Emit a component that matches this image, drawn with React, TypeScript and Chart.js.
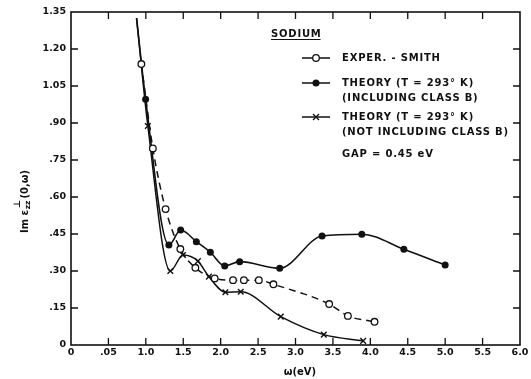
import React, { useEffect, useRef } from 'react';
import { Chart, registerables } from 'chart.js';

Chart.register(...registerables);

// ---- data ----
const xTickValues = [0, 0.5, 1, 1.5, 2, 2.5, 3, 3.5, 4, 4.5, 5, 5.5, 6];
const xTickLabels = ['0', '.05', '1.0', '1.5', '2.0', '2.5', '3.0', '3.5', '4.0', '4.5', '5.0', '5.5', '6.0'];
const yTickValues = [0, 0.15, 0.3, 0.45, 0.6, 0.75, 0.9, 1.05, 1.2, 1.35];
const yTickLabels = ['0', '.15', '.30', '.45', '.60', '.75', '.90', '1.05', '1.20', '1.35'];

const experX = [0.94, 1.094, 1.264, 1.461, 1.662, 1.92, 2.165, 2.31, 2.51, 2.705, 3.45, 3.7, 4.056];
const experY = [1.139, 0.797, 0.551, 0.389, 0.313, 0.27, 0.263, 0.263, 0.263, 0.246, 0.166, 0.118, 0.094];

const theoryBX = [0.876, 0.997, 1.308, 1.465, 1.675, 1.862, 2.054, 2.254, 2.789, 3.355, 3.886, 4.448, 5.0];
const theoryBY = [1.325, 0.996, 0.405, 0.466, 0.419, 0.376, 0.32, 0.338, 0.311, 0.442, 0.449, 0.388, 0.324];

const theoryNX = [0.876, 1.027, 1.327, 1.496, 1.696, 1.843, 2.063, 2.268, 2.803, 3.378, 3.904];
const theoryNY = [1.325, 0.888, 0.3, 0.365, 0.34, 0.277, 0.214, 0.216, 0.115, 0.042, 0.017];

const legendTitle = 'SODIUM';
const legendLines = [
  'EXPER. - SMITH',
  'THEORY (T = 293° K)',
  '(INCLUDING CLASS B)',
  'THEORY (T = 293° K)',
  '(NOT INCLUDING CLASS B)',
  'GAP = 0.45 eV',
];

const INK = '#111';
const FONT = '"DejaVu Sans", sans-serif';

const toPts = (xs: number[], ys: number[]) => xs.map((x, i) => ({ x, y: ys[i] }));

function drawMarker(ctx: CanvasRenderingContext2D, kind: string, x: number, y: number) {
  ctx.save();
  ctx.strokeStyle = INK;
  ctx.lineWidth = 1.3;
  if (kind === 'open') {
    ctx.beginPath();
    ctx.arc(x, y, 3.3, 0, Math.PI * 2);
    ctx.fillStyle = '#fff';
    ctx.fill();
    ctx.stroke();
  } else if (kind === 'filled') {
    ctx.beginPath();
    ctx.arc(x, y, 3.5, 0, Math.PI * 2);
    ctx.fillStyle = INK;
    ctx.fill();
  } else {
    const r = 3;
    ctx.beginPath();
    ctx.moveTo(x - r, y - r);
    ctx.lineTo(x + r, y + r);
    ctx.moveTo(x - r, y + r);
    ctx.lineTo(x + r, y - r);
    ctx.stroke();
  }
  ctx.restore();
}

const decorPlugin = {
  id: 'decor',
  afterDraw(chart: any) {
    const { ctx, chartArea: a, scales } = chart;
    const xs = scales.x;
    const ys = scales.y;
    ctx.save();
    // frame
    ctx.strokeStyle = INK;
    ctx.lineWidth = 1.6;
    ctx.strokeRect(a.left, a.top, a.right - a.left, a.bottom - a.top);
    // inward ticks on all four sides
    const TL = 7;
    ctx.lineWidth = 1.3;
    ctx.beginPath();
    xTickValues.forEach((v, i) => {
      if (i === 0 || i === xTickValues.length - 1) return;
      const px = xs.getPixelForValue(v);
      ctx.moveTo(px, a.bottom);
      ctx.lineTo(px, a.bottom - TL);
      ctx.moveTo(px, a.top);
      ctx.lineTo(px, a.top + TL);
    });
    yTickValues.forEach((v, i) => {
      if (i === 0 || i === yTickValues.length - 1) return;
      const py = ys.getPixelForValue(v);
      ctx.moveTo(a.left, py);
      ctx.lineTo(a.left + TL, py);
      ctx.moveTo(a.right, py);
      ctx.lineTo(a.right - TL, py);
    });
    ctx.stroke();

    // x title
    ctx.fillStyle = INK;
    ctx.font = `bold 10px ${FONT}`;
    ctx.textAlign = 'center';
    ctx.textBaseline = 'middle';
    ctx.fillText('ω(eV)', 300, 372);

    // y title (rotated)
    ctx.save();
    ctx.translate(25, 200);
    ctx.rotate(-Math.PI / 2);
    ctx.textAlign = 'left';
    ctx.textBaseline = 'middle';
    let cx = -33;
    ctx.font = `bold 10px ${FONT}`;
    ctx.fillText('Im ε', cx, 0);
    cx += ctx.measureText('Im ε').width + 0.5;
    ctx.font = `bold 7.5px ${FONT}`;
    ctx.fillText('zz', cx, 3.5);
    const zzw = ctx.measureText('zz').width;
    ctx.font = `bold 9px ${FONT}`;
    ctx.fillText('⊥', cx + 1, -7.5);
    cx += zzw + 2;
    ctx.font = `bold 10px ${FONT}`;
    ctx.fillText('(0,ω)', cx, 0);
    ctx.restore();

    // legend block
    ctx.font = `bold 10px ${FONT}`;
    (ctx as any).letterSpacing = '0.8px';
    ctx.textAlign = 'left';
    ctx.textBaseline = 'middle';
    ctx.fillText(legendTitle, 271, 34);
    const tw = ctx.measureText(legendTitle).width;
    ctx.lineWidth = 1.2;
    ctx.beginPath();
    ctx.moveTo(271, 39.5);
    ctx.lineTo(271 + tw - 1, 39.5);
    ctx.stroke();

    const textX = 342;
    const rows = [58, 83, 98, 117, 132, 154];
    legendLines.forEach((t, i) => ctx.fillText(t, textX, rows[i]));
    (ctx as any).letterSpacing = '0px';

    const markerRows: [number, string][] = [
      [rows[0], 'open'],
      [rows[1], 'filled'],
      [rows[3], 'cross'],
    ];
    markerRows.forEach(([y, kind]) => {
      ctx.lineWidth = 1.5;
      ctx.strokeStyle = INK;
      ctx.beginPath();
      ctx.moveTo(302, y);
      ctx.lineTo(330, y);
      ctx.stroke();
      drawMarker(ctx, kind, 316, y);
    });
    ctx.restore();
  },
};

export default function App() {
  const ref = useRef<HTMLCanvasElement | null>(null);

  useEffect(() => {
    if (!ref.current) return;
    const hideFirst = (r: number) => (c: any) => (c.dataIndex === 0 ? 0 : r);
    const chart = new Chart(ref.current, {
      type: 'scatter',
      data: {
        datasets: [
          {
            label: 'EXPER. - SMITH',
            data: toPts(experX, experY),
            showLine: true,
            borderColor: INK,
            borderWidth: 1.5,
            borderDash: [7, 5],
            cubicInterpolationMode: 'monotone',
            pointStyle: 'circle',
            pointRadius: 3.3,
            pointBackgroundColor: '#fff',
            pointBorderColor: INK,
            pointBorderWidth: 1.3,
          },
          {
            label: 'THEORY (INCLUDING CLASS B)',
            data: toPts(theoryBX, theoryBY),
            showLine: true,
            borderColor: INK,
            borderWidth: 1.6,
            cubicInterpolationMode: 'monotone',
            pointStyle: 'circle',
            pointRadius: hideFirst(3.5),
            pointBackgroundColor: INK,
            pointBorderColor: INK,
            pointBorderWidth: 0,
          },
          {
            label: 'THEORY (NOT INCLUDING CLASS B)',
            data: toPts(theoryNX, theoryNY),
            showLine: true,
            borderColor: INK,
            borderWidth: 1.5,
            cubicInterpolationMode: 'monotone',
            pointStyle: 'crossRot',
            pointRadius: hideFirst(4),
            pointBorderColor: INK,
            pointBorderWidth: 1.4,
          },
        ],
      } as any,
      options: {
        animation: false,
        responsive: false,
        devicePixelRatio: 1,
        layout: { padding: { top: 12, right: 11, left: 0, bottom: 0 } },
        plugins: { legend: { display: false }, tooltip: { enabled: false } },
        scales: {
          x: {
            type: 'linear',
            min: 0,
            max: 6,
            grid: { display: false, drawTicks: false },
            border: { display: false },
            afterBuildTicks: (s: any) => {
              s.ticks = xTickValues.map((v) => ({ value: v }));
            },
            afterFit: (s: any) => {
              s.height = 34;
            },
            ticks: {
              padding: 2,
              color: INK,
              font: { family: FONT, size: 9.5, weight: 'bold' },
              maxRotation: 0,
              autoSkip: false,
              callback: (_v: any, i: number) => xTickLabels[i],
            },
          },
          y: {
            type: 'linear',
            min: 0,
            max: 1.35,
            grid: { display: false, drawTicks: false },
            border: { display: false },
            afterBuildTicks: (s: any) => {
              s.ticks = yTickValues.map((v) => ({ value: v }));
            },
            afterFit: (s: any) => {
              s.width = 71;
            },
            ticks: {
              padding: 5,
              color: INK,
              font: { family: FONT, size: 9.5, weight: 'bold' },
              autoSkip: false,
              callback: (_v: any, i: number) => yTickLabels[i],
            },
          },
        },
      } as any,
      plugins: [decorPlugin],
    });
    return () => chart.destroy();
  }, []);

  return (
    <div style={{ position: 'fixed', left: 0, top: 0, width: 531, height: 379, background: '#fff' }}>
      <canvas ref={ref} width={531} height={379} style={{ display: 'block', width: 531, height: 379 }} />
    </div>
  );
}
